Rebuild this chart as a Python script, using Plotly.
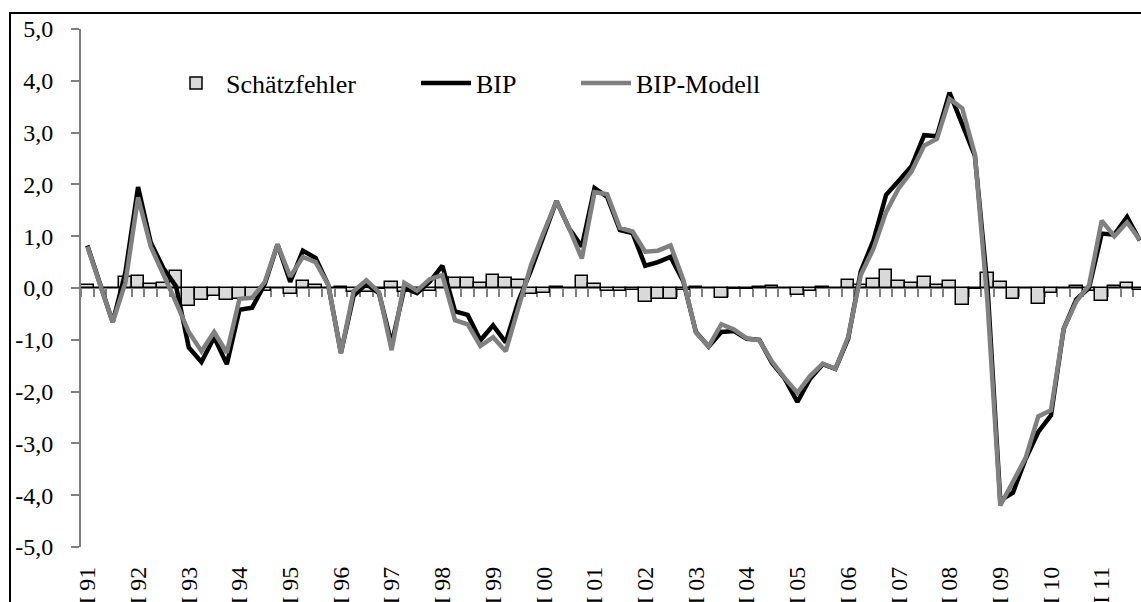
import plotly.graph_objects as go

# ---- data (quarterly, I 91 .. IV 11) ----
years = ["91", "92", "93", "94", "95", "96", "97", "98", "99", "00", "01",
         "02", "03", "04", "05", "06", "07", "08", "09", "10", "11"]

bip = [0.82, 0.05, -0.66, 0.30, 1.95, 0.88, 0.38, 0.03, -1.15, -1.43, -0.95, -1.47,
       -0.42, -0.38, 0.08, 0.84, 0.12, 0.72, 0.58, 0.06, -1.25, -0.15, 0.08, -0.10,
       -1.08, 0.00, -0.10, 0.12, 0.43, -0.45, -0.52, -1.01, -0.72, -1.05, -0.25, 0.35,
       1.00, 1.68, 1.15, 0.80, 1.93, 1.76, 1.12, 1.06, 0.43, 0.50, 0.60, 0.13,
       -0.85, -1.13, -0.85, -0.83, -0.98, -1.00, -1.45, -1.75, -2.20, -1.75, -1.47, -1.56,
       -0.98, 0.32, 0.92, 1.80, 2.07, 2.35, 2.95, 2.93, 3.77, 3.15, 2.55, 0.00,
       -4.10, -3.95, -3.30, -2.78, -2.46, -0.79, -0.22, 0.00, 1.05, 1.03, 1.37, 0.92]

bip_modell = [0.80, 0.05, -0.66, 0.10, 1.75, 0.80, 0.28, -0.28, -0.85, -1.22, -0.85, -1.25,
              -0.21, -0.19, 0.12, 0.84, 0.22, 0.60, 0.50, 0.06, -1.26, -0.06, 0.15, -0.08,
              -1.20, 0.10, -0.05, 0.17, 0.25, -0.62, -0.70, -1.12, -0.95, -1.22, -0.38, 0.45,
              1.08, 1.68, 1.15, 0.57, 1.85, 1.81, 1.16, 1.09, 0.70, 0.72, 0.82, 0.16,
              -0.86, -1.13, -0.70, -0.80, -0.97, -1.01, -1.42, -1.74, -2.02, -1.70, -1.46, -1.56,
              -0.95, 0.25, 0.76, 1.47, 1.93, 2.25, 2.75, 2.88, 3.65, 3.47, 2.58, -0.30,
              -4.20, -3.72, -3.28, -2.48, -2.36, -0.79, -0.26, 0.05, 1.30, 1.00, 1.27, 0.93]

schaetzfehler = [0.05, 0.00, 0.00, 0.21, 0.23, 0.08, 0.10, 0.32, -0.34, -0.23, -0.15, -0.24,
                 -0.21, -0.19, -0.05, 0.00, -0.11, 0.13, 0.05, 0.00, 0.02, -0.08, -0.07, -0.02,
                 0.12, -0.08, -0.04, -0.05, 0.20, 0.20, 0.20, 0.10, 0.26, 0.20, 0.15, -0.12,
                 -0.09, 0.02, 0.00, 0.23, 0.08, -0.05, -0.05, -0.03, -0.27, -0.22, -0.22, -0.03,
                 0.02, 0.00, -0.20, -0.02, -0.02, 0.02, 0.03, 0.00, -0.14, -0.06, 0.01, 0.00,
                 0.16, 0.06, 0.18, 0.34, 0.14, 0.10, 0.21, 0.05, 0.14, -0.32, -0.02, 0.29,
                 0.12, -0.21, 0.00, -0.30, -0.10, 0.00, 0.04, -0.05, -0.25, 0.03, 0.10, -0.03]

y_ticks = [-5, -4, -3, -2, -1, 0, 1, 2, 3, 4, 5]

quarters = list(range(len(bip)))
year_ticks = [q for q in quarters if q % 4 == 0]
year_labels = ["I " + years[q // 4] for q in year_ticks]
y_labels = [f"{v:.1f}".replace(".", ",") for v in y_ticks]

FONT = "Liberation Serif, Times New Roman, serif"
GRAY = "#808080"

fig = go.Figure()
fig.add_trace(go.Bar(x=quarters, y=schaetzfehler, name="Schätzfehler",
                     marker=dict(color="#d9d9d9", line=dict(color="black", width=1.5)),
                     xaxis="x", yaxis="y", legend="legend"))
fig.add_trace(go.Scatter(x=quarters, y=bip, name="BIP", mode="lines",
                         line=dict(color="black", width=4.5),
                         xaxis="x2", yaxis="y", legend="legend2"))
fig.add_trace(go.Scatter(x=quarters, y=bip_modell, name="BIP-Modell", mode="lines",
                         line=dict(color=GRAY, width=4.5),
                         xaxis="x2", yaxis="y", legend="legend3"))

W, H = 1141, 602
ML, MR, MT, MB = 81, 0, 29, 55
pw, ph = W - ML - MR, H - MT - MB


def px_x(p):
    return (p - ML) / pw


def px_y(p):
    return (H - MB - p) / ph


leg_common = dict(orientation="h", yanchor="middle", xanchor="left",
                  font=dict(family=FONT, size=26, color="black"),
                  bgcolor="rgba(0,0,0,0)", itemwidth=50)

fig.update_layout(
    width=W, height=H,
    margin=dict(l=ML, r=MR, t=MT, b=MB, autoexpand=False),
    paper_bgcolor="white", plot_bgcolor="white",
    bargap=0,
    font=dict(family=FONT, color="black"),
    xaxis=dict(range=[-0.5, 83.1], anchor="free", position=0.5,
               showline=True, linecolor=GRAY, linewidth=2,
               ticks="outside", ticklen=8, tickwidth=2, tickcolor=GRAY,
               tickmode="linear", tick0=-0.5, dtick=1, automargin=False,
               showticklabels=False, showgrid=False, zeroline=False,
               layer="below traces"),
    xaxis2=dict(overlaying="x", matches="x", anchor="y", side="bottom",
                tickmode="array", tickvals=year_ticks, ticktext=year_labels,
                tickangle=-90, ticks="", showline=False, showgrid=False,
                zeroline=False, ticklabelstandoff=14, automargin=False,
                tickfont=dict(family=FONT, size=24, color="black")),
    yaxis=dict(range=[-5, 5], tickmode="array", tickvals=y_ticks, ticktext=y_labels,
               showline=True, linecolor=GRAY, linewidth=2,
               ticks="outside", ticklen=8, tickwidth=2, tickcolor=GRAY,
               showgrid=False, zeroline=False, ticklabelstandoff=13, automargin=False,
               tickfont=dict(family=FONT, size=24, color="black")),
    legend=dict(x=px_x(166), y=px_y(83), **leg_common),
    legend2=dict(x=px_x(416), y=px_y(83), **leg_common),
    legend3=dict(x=px_x(576), y=px_y(83), **leg_common),
    shapes=[dict(type="rect", xref="paper", yref="paper",
                 x0=px_x(10), x1=px_x(1160), y0=px_y(640), y1=px_y(13),
                 line=dict(color="black", width=2), fillcolor="rgba(0,0,0,0)",
                 layer="below")],
    showlegend=True,
)

fig.write_html("out.html", config={"displayModeBar": False},
               post_script="document.body.style.margin='0';document.body.style.overflow='hidden';")
